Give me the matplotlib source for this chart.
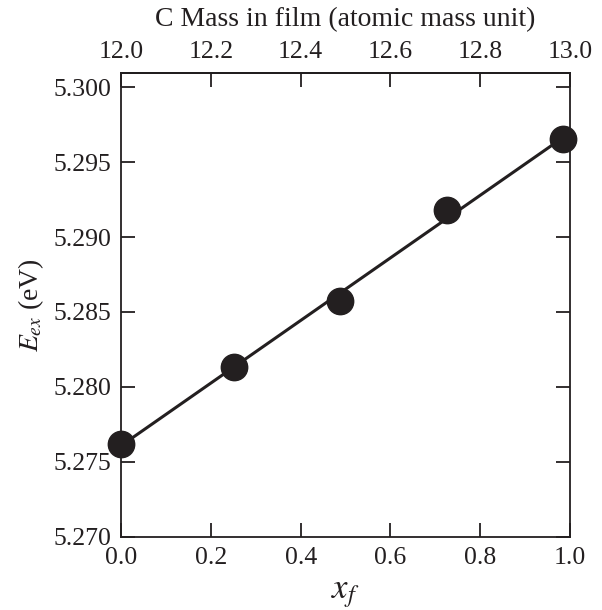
import numpy as np
import matplotlib
matplotlib.use('Agg')
import matplotlib.pyplot as plt

# data
x_f = [0.0, 0.251, 0.488, 0.727, 0.985]
e_ex = [5.2762, 5.28135, 5.2857, 5.2918, 5.29653]

xticks = [0.0, 0.2, 0.4, 0.6, 0.8, 1.0]
yticks = [5.270, 5.275, 5.280, 5.285, 5.290, 5.295, 5.300]
mass_ticks = [12.0, 12.2, 12.4, 12.6, 12.8, 13.0]

plt.rcParams['font.family'] = ['Liberation Serif', 'DejaVu Serif']
plt.rcParams['mathtext.fontset'] = 'stix'

col = '#231f20'

fig = plt.figure(figsize=(6.02, 6.10), dpi=100)
ax = fig.add_axes([0.201, 0.120, 0.746, 0.760])

# linear fit through the points
p = np.polyfit(x_f, e_ex, 1)
xx = np.array([x_f[0], x_f[-1]])
ax.plot(xx, np.polyval(p, xx), color=col, lw=2.2, zorder=2)
ax.plot(x_f, e_ex, 'o', color=col, ms=19, zorder=3, clip_on=False)

ax.set_xlim(0, 1.0)
ax.set_ylim(5.270, 5.30093)
ax.set_xticks(xticks)
ax.set_xticklabels(['%.1f' % v for v in xticks])
ax.set_yticks(yticks)
ax.set_yticklabels(['%.3f' % v for v in yticks])

ax.tick_params(direction='in', length=10, width=1.3, labelsize=18.5, colors=col,
               right=True, pad=7)
for s in ax.spines.values():
    s.set_linewidth(1.3)
    s.set_color(col)

ax.set_xlabel('$x_f$', fontsize=25, color=col, labelpad=6)
ax.set_ylabel('$E_{ex}$ (eV)', fontsize=20, color=col, labelpad=5)

# top axis: C mass
sec = ax.secondary_xaxis('top', functions=(lambda x: x + 12.0, lambda m: m - 12.0))
sec.set_xticks(mass_ticks)
sec.set_xticklabels(['%.1f' % v for v in mass_ticks])
sec.tick_params(direction='in', length=10, width=1.3, labelsize=18.5, colors=col, pad=7)
sec.spines['top'].set_linewidth(1.3)
sec.set_xlabel('C Mass in film (atomic mass unit)', fontsize=20, color=col, labelpad=11)

fig.savefig('out.png', dpi=100)
